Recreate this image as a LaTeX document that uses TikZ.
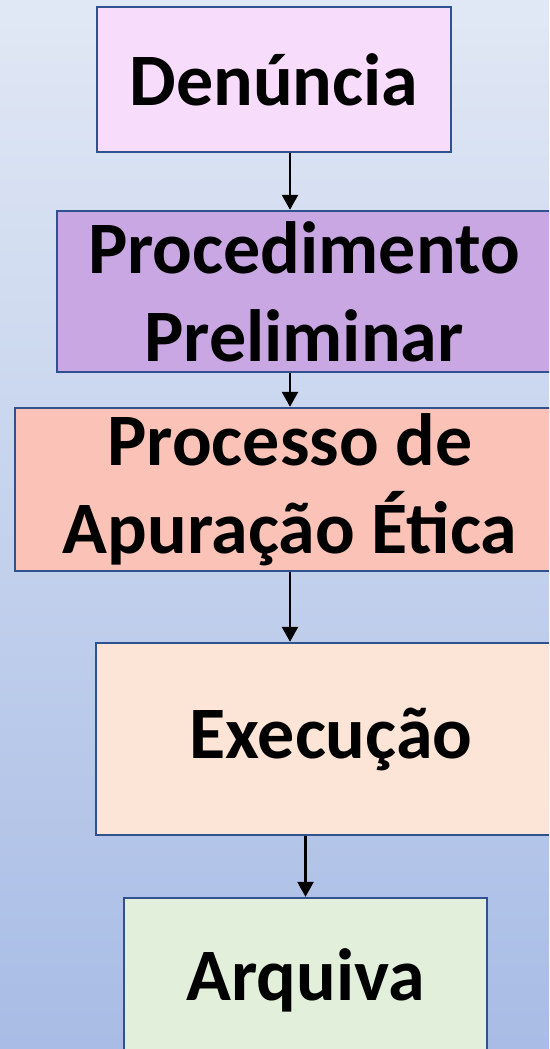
\documentclass[tikz,border=0pt]{standalone}
\usepackage{fontspec}
\setmainfont{Carlito}
\usetikzlibrary{arrows.meta}
\definecolor{fundoalto}{HTML}{E1E8F5}
\definecolor{fundobaixo}{HTML}{A8BCE5}
\definecolor{borda}{HTML}{2F528F}
\definecolor{rosa}{HTML}{F8DCFB}
\definecolor{lilas}{HTML}{C9A7E3}
\definecolor{salmao}{HTML}{FBC3B7}
\definecolor{pessego}{HTML}{FCE4D6}
\definecolor{verde}{HTML}{E2EFDA}

\begin{document}
\begin{tikzpicture}[
		x=1pt, y=-1pt,
		etapa/.style={rectangle,draw=borda,line width=2.4pt,inner sep=0pt,
		align=center,font=\fontsize{74}{88}\selectfont\bfseries},
		fluxo/.style={-{Triangle[length=15pt,width=16pt]},draw=black,line width=2.6pt}
		]
		\useasboundingbox (0,0) rectangle (549,1049);
		\shade[top color=fundoalto,bottom color=fundobaixo] (0,0) rectangle (549,1049);
		\clip (0,0) rectangle (549,1049);
		\node[etapa,fill=rosa,minimum width=354pt,minimum height=145pt] (denuncia) at (274,79.5) {Denúncia};
		\node[etapa,fill=lilas,minimum width=494pt,minimum height=161pt] (preliminar) at (304,291.5) {Procedimento\\Preliminar};
		\node[etapa,fill=salmao,minimum width=550pt,minimum height=163pt] (apuracao) at (290,489.5) {Processo de\\Apuração Ética};
		\node[etapa,fill=pessego,minimum width=470pt,minimum height=192pt] (execucao) at (331,739) {Execução};
		\node[etapa,fill=verde,minimum width=363pt,minimum height=164pt] (arquiva) at (305.5,980) {Arquiva};
		\coordinate (eixo) at (290,0);
		\draw[fluxo] (denuncia.south -| eixo) -- (preliminar.north -| eixo);
		\draw[fluxo] (preliminar.south -| eixo) -- (apuracao.north -| eixo);
		\draw[fluxo] (apuracao.south -| eixo) -- (execucao.north -| eixo);
		\draw[fluxo] (execucao.south -| arquiva.north) -- (arquiva.north);
	\end{tikzpicture}
\end{document}
